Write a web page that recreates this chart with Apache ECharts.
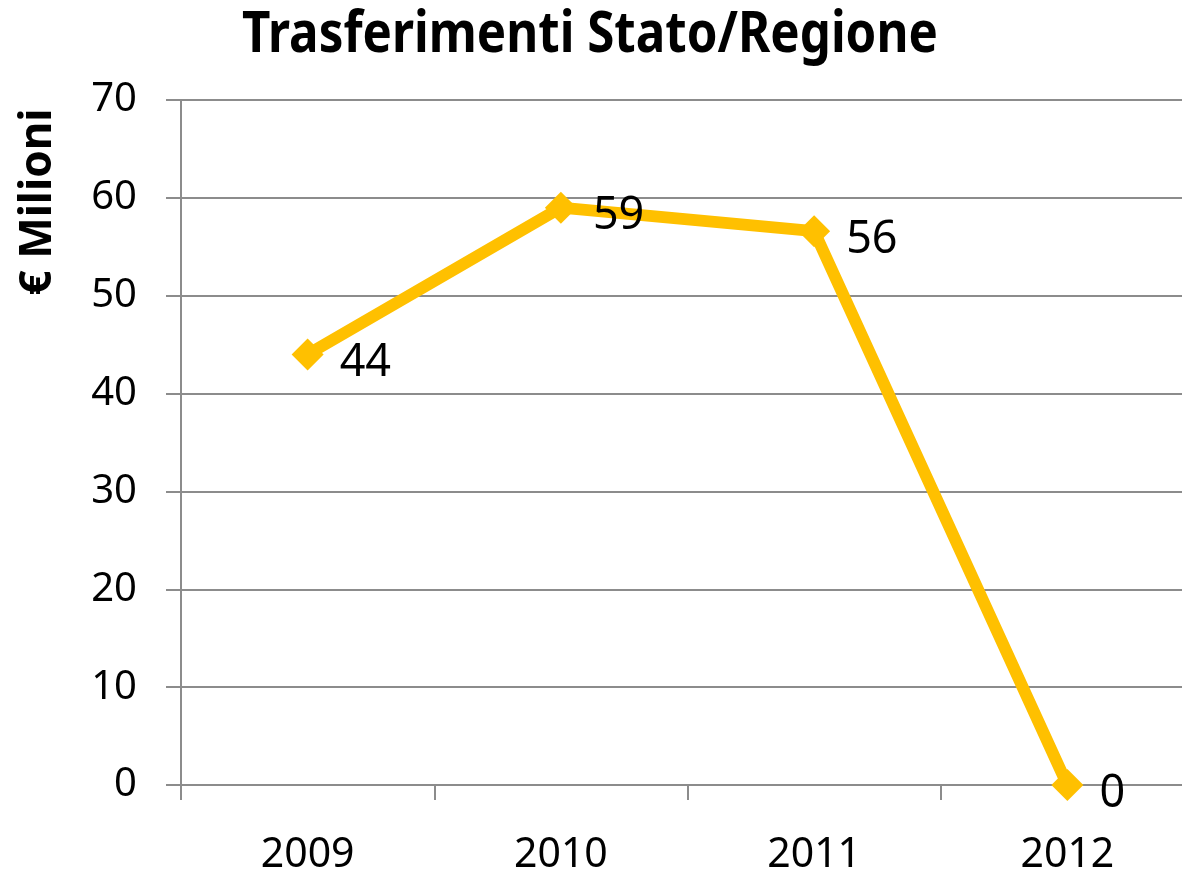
<!DOCTYPE html>
<html>
<head>
<meta charset="utf-8">
<script src="https://cdn.jsdelivr.net/npm/echarts@6/dist/echarts.min.js"></script>
<style>
html,body{margin:0;padding:0;background:#fff;}
#chart{width:1182px;height:880px;}
</style>
</head>
<body>
<div id="chart"></div>
<script>
const categories = ['2009', '2010', '2011', '2012'];
const values = [44, 59, 56.6, 0];
const dataLabels = ['44', '59', '56', '0'];
const yTicks = [0, 10, 20, 30, 40, 50, 60, 70];
const titleText = 'Trasferimenti Stato/Regione';
const yName = '€ Milioni';

const chart = echarts.init(document.getElementById('chart'));
const gray = '#8c8c8c';
const font = '"Noto Sans","DejaVu Sans",sans-serif';
chart.setOption({
  backgroundColor: '#fff',
  animation: false,
  graphic: [{
    type: 'text', x: 590, y: 35, scaleX: 0.85,
    style: {text: titleText, fontFamily: font, fontWeight: 'bold', fontSize: 58, fill: '#000', align: 'center', verticalAlign: 'middle'}
  }, {
    type: 'text', x: 38, y: 202, rotation: Math.PI / 2,
    style: {text: yName, fontFamily: font, fontWeight: 'bold', fontSize: 44, fill: '#000', align: 'center', verticalAlign: 'middle'}
  }],
  grid: {left: 181, top: 100, width: 1013, bottom: 95, containLabel: false, outerBoundsMode: 'none'},
  xAxis: {
    type: 'category', data: categories, boundaryGap: true,
    axisLine: {lineStyle: {color: gray, width: 2}},
    axisTick: {show: true, length: 15, lineStyle: {color: gray, width: 2}},
    axisLabel: {margin: 50, fontSize: 41, color: '#000', fontFamily: font}
  },
  yAxis: {
    type: 'value', min: 0, max: 70, interval: 10,
    axisLine: {show: true, lineStyle: {color: gray, width: 2}},
    axisTick: {show: true, length: 15, lineStyle: {color: gray, width: 2}},
    splitLine: {lineStyle: {color: gray, width: 2}},
    axisLabel: {margin: 44, fontSize: 40, color: '#000', fontFamily: font,
      formatter: v => yTicks.includes(v) ? String(v) : ''}
  },
  series: [{
    type: 'line', data: values,
    lineStyle: {color: '#FFC000', width: 12},
    itemStyle: {color: '#FFC000'},
    symbol: 'diamond', symbolSize: 32,
    label: {
      show: true, position: 'right', distance: 16, offset: [0, 9],
      formatter: p => dataLabels[p.dataIndex],
      fontSize: 45, color: '#000', fontFamily: font
    }
  }]
});
</script>
</body>
</html>
